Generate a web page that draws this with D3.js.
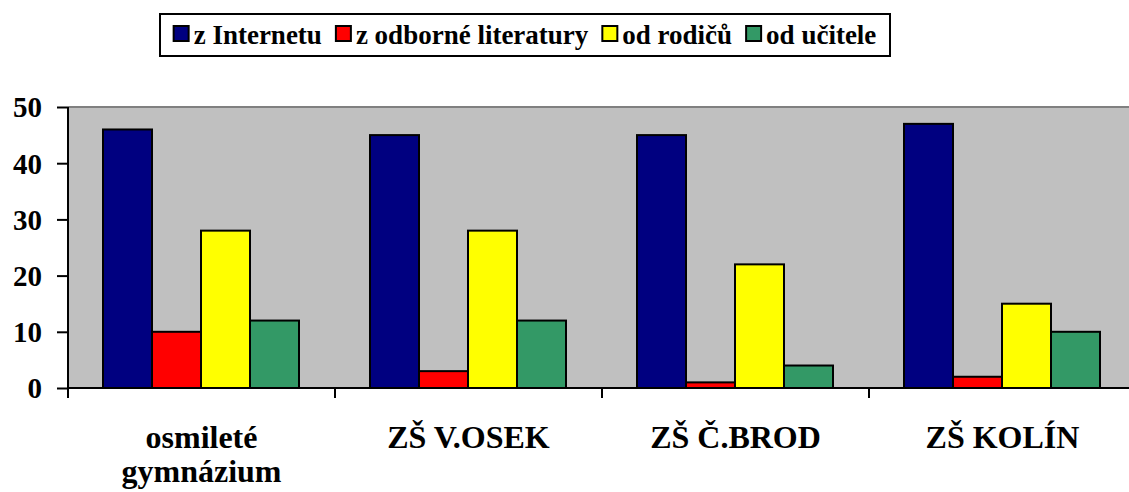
<!DOCTYPE html>
<html>
<head>
<meta charset="utf-8">
<script src="https://cdn.jsdelivr.net/npm/d3@7"></script>
<style>
    text, tspan { font-family: 'Liberation Serif', serif; }
</style>
</head>
<body style="margin:0">
<div id="chart"></div>
<script>
var categories = [["osmileté", "gymnázium"], ["ZŠ V.OSEK"], ["ZŠ Č.BROD"], ["ZŠ KOLÍN"]];
var seriesNames = ["z Internetu", "z odborné literatury", "od rodičů", "od učitele"];
var seriesColors = ["#000080", "#FF0000", "#FFFF00", "#339966"];
var internet = [46, 45, 45, 47];
var literatura = [10, 3, 1, 2];
var rodice = [28, 28, 22, 15];
var ucitel = [12, 12, 4, 10];
var yTicks = [0, 10, 20, 30, 40, 50];

var values = [internet, literatura, rodice, ucitel];
var catKeys = categories.map(function(c) { return c.join(" "); });

var width = 1129, height = 492;
var plot = {left: 68, top: 107, right: 1136, bottom: 388};

var svg = d3.select("#chart").append("svg")
    .attr("width", width)
    .attr("height", height)
    .attr("font-family", "Liberation Serif")
    .style("font-family", "'Liberation Serif'");

function serifText(sel, size) {
    return sel.attr("font-family", "Liberation Serif")
        .style("font-family", "'Liberation Serif'")
        .attr("font-weight", "bold")
        .attr("font-size", size)
        .attr("fill", "#000");
}

var x = d3.scaleBand().domain(catKeys).range([plot.left, plot.right]);
var xs = d3.scaleBand().domain(seriesNames).range([35, 35 + 196]);
var y = d3.scaleLinear().domain([0, 50]).range([plot.bottom, plot.top]);

// legend first
var legend = svg.append("g");
legend.append("rect")
    .attr("x", 160).attr("y", 14)
    .attr("width", 730).attr("height", 42)
    .attr("fill", "#fff").attr("stroke", "#000").attr("stroke-width", 2);

var items = legend.selectAll(".li")
    .data(seriesNames)
    .enter().append("g");
items.append("rect")
    .attr("width", 15).attr("height", 15)
    .attr("y", 26)
    .attr("fill", function(d, i) { return seriesColors[i]; })
    .attr("stroke", "#000").attr("stroke-width", 2);
serifText(items.append("text"), 27)
    .attr("x", 20).attr("y", 44)
    .text(function(d) { return d; });

// plot background
svg.append("rect")
    .attr("x", plot.left).attr("y", plot.top)
    .attr("width", plot.right - plot.left).attr("height", plot.bottom - plot.top)
    .attr("fill", "#C0C0C0");
svg.append("line")
    .attr("x1", plot.left).attr("x2", plot.right)
    .attr("y1", plot.top).attr("y2", plot.top)
    .attr("stroke", "#808080").attr("stroke-width", 2);

// bars
var groups = svg.selectAll(".grp")
    .data(catKeys)
    .enter().append("g")
    .attr("transform", function(d) { return "translate(" + x(d) + ",0)"; });

groups.selectAll("rect")
    .data(function(d, i) {
        return seriesNames.map(function(s, j) { return {s: s, v: values[j][i], c: seriesColors[j]}; });
    })
    .enter().append("rect")
    .attr("x", function(d) { return xs(d.s); })
    .attr("width", xs.bandwidth())
    .attr("y", function(d) { return y(d.v); })
    .attr("height", function(d) { return y(0) - y(d.v); })
    .attr("fill", function(d) { return d.c; })
    .attr("stroke", "#000")
    .attr("stroke-width", 2);

// y axis
var yAxis = svg.append("g")
    .attr("transform", "translate(" + plot.left + ",0)")
    .call(d3.axisLeft(y).tickValues(yTicks).tickSize(11).tickPadding(15));
yAxis.attr("font-family", "Liberation Serif").attr("font-size", null);
yAxis.select(".domain").attr("stroke", "#000").attr("stroke-width", 2).attr("d", "M0," + plot.top + "V" + (plot.bottom + 10));
yAxis.selectAll(".tick line").attr("stroke", "#000").attr("stroke-width", 2);
serifText(yAxis.selectAll(".tick text"), 29).attr("dy", "0.34em");

// x axis
svg.append("line")
    .attr("x1", plot.left).attr("x2", plot.right)
    .attr("y1", plot.bottom).attr("y2", plot.bottom)
    .attr("stroke", "#000").attr("stroke-width", 2);
svg.selectAll(".xtick")
    .data(catKeys.slice(1))
    .enter().append("line")
    .attr("x1", function(d) { return x(d); }).attr("x2", function(d) { return x(d); })
    .attr("y1", plot.bottom).attr("y2", plot.bottom + 10)
    .attr("stroke", "#000").attr("stroke-width", 2);

categories.forEach(function(lines, ci) {
    lines.forEach(function(line, li) {
        serifText(svg.append("text"), 32)
            .attr("text-anchor", "middle")
            .attr("x", x(catKeys[ci]) + x.bandwidth() / 2)
            .attr("y", 448 + li * 34)
            .text(line);
    });
});

// lay out legend items centred in the box
var pos = [];
var total = 0;
items.each(function() {
    var w = 20 + d3.select(this).select("text").node().getComputedTextLength();
    pos.push(w);
    total += w;
});
var gap = 14;
total += gap * (seriesNames.length - 1);
var cx = 160 + 730 / 2 - total / 2;
items.attr("transform", function(d, i) {
    var t = "translate(" + cx + ",0)";
    cx += pos[i] + gap;
    return t;
});
</script>
</body>
</html>
